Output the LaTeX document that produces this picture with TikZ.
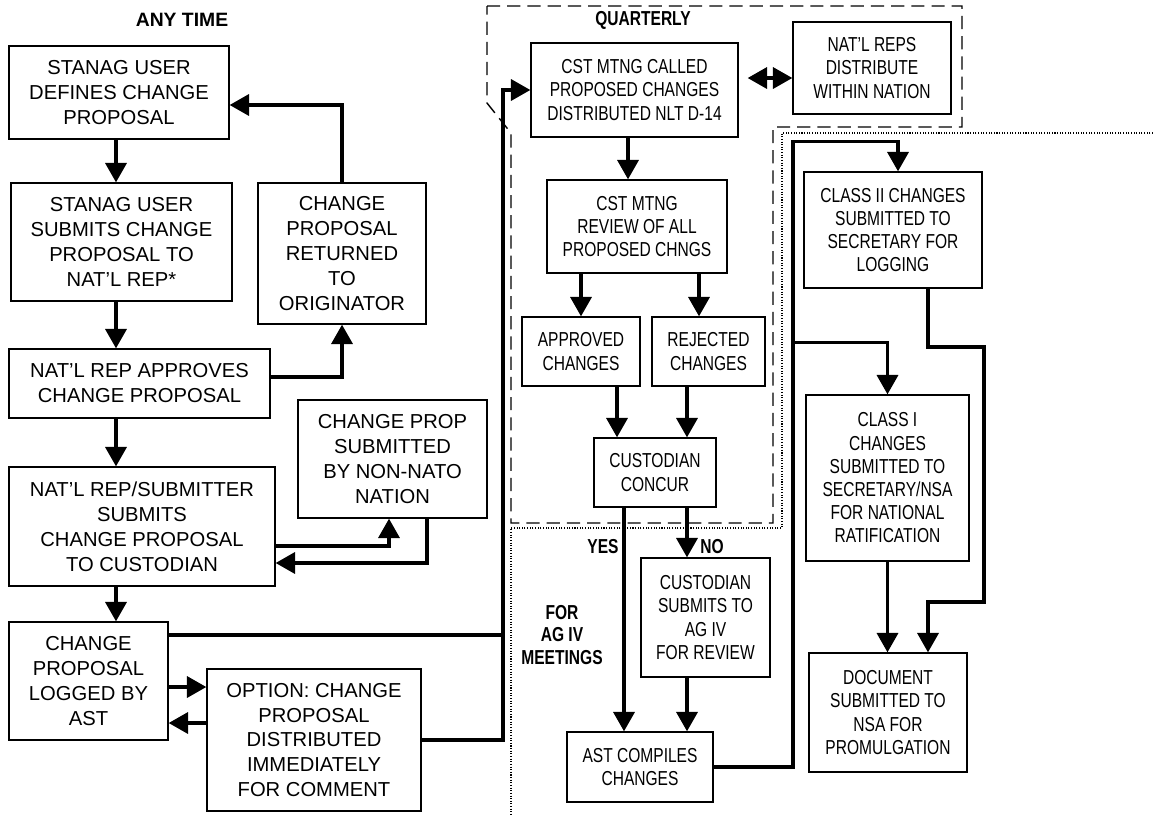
\documentclass[tikz,border=0pt]{standalone}
\usepackage{fontspec}
\setmainfont{Liberation Sans}
\newfontfamily\narrowfont{Liberation Sans}[FakeStretch=0.77]
\usetikzlibrary{arrows.meta,calc}

\begin{document}
\begin{tikzpicture}[x=0.02cm,y=-0.02cm,
    box/.style={draw, line width=0.8pt, align=center, inner sep=0pt,
      font=\fontsize{11.5}{14.2}\selectfont},
    nbox/.style={box, font=\narrowfont\fontsize{11.5}{13.2}\selectfont},
    flow/.style={line width=1.8pt},
    arr/.style={flow, -{Triangle[length=11pt,width=12pt]}},
    darr/.style={flow, {Triangle[length=11pt,width=12pt]}-{Triangle[length=11pt,width=12pt]}},
    lbl/.style={font=\bfseries\fontsize{11}{13}\selectfont},
    nlbl/.style={font=\narrowfont\bfseries\fontsize{11.5}{13}\selectfont, align=center}]
  \useasboundingbox (0,0) rectangle (1153,816);

  % Regions
  \draw[line width=0.8pt, dash pattern=on 7.5pt off 4pt]
    (487,6) -- (962,6) -- (962,127) -- (773,127) -- (773,523) -- (511,523) -- (511,133) -- (487,103) -- cycle;
  \draw[line width=0.6pt, dash pattern=on 0.6pt off 0.9pt]
    (1153,133) -- (782,133) -- (782,528) -- (511,528) -- (511,816);

  % Headings
  \node[lbl] (anytime) at (182,20) {ANY TIME};
  \node[nlbl] (quarterly) at (643,20) {QUARTERLY};
  \node[nlbl] (yes) at (603,547) {YES};
  \node[nlbl] (no) at (712,547) {NO};
  \node[nlbl] (agmeet) at (562,635) {FOR\\AG IV\\MEETINGS};

  % Any time column
  \node[box, minimum width=4.40cm, minimum height=1.86cm] (define) at (119,92.5) {STANAG USER\\DEFINES CHANGE\\PROPOSAL};
  \node[box, minimum width=4.42cm, minimum height=2.36cm] (submit) at (121.5,242) {STANAG USER\\SUBMITS CHANGE\\PROPOSAL TO\\NAT’L REP*};
  \node[box, minimum width=3.36cm, minimum height=2.82cm] (returned) at (342,253.5) {CHANGE\\PROPOSAL\\RETURNED\\TO\\ORIGINATOR};
  \node[box, minimum width=5.22cm, minimum height=1.38cm] (approves) at (139.5,383.5) {NAT’L REP APPROVES\\CHANGE PROPOSAL};
  \node[box, minimum width=3.78cm, minimum height=2.36cm] (nonnato) at (392.5,459) {CHANGE PROP\\SUBMITTED\\BY NON-NATO\\NATION};
  \node[box, minimum width=5.32cm, minimum height=2.38cm] (tocust) at (142,526.5) {NAT’L REP/SUBMITTER\\SUBMITS\\CHANGE PROPOSAL\\TO CUSTODIAN};
  \node[box, minimum width=3.18cm, minimum height=2.36cm] (logged) at (88.5,681) {CHANGE\\PROPOSAL\\LOGGED BY\\AST};
  \node[box, minimum width=4.28cm, minimum height=2.84cm] (option) at (314,740) {OPTION: CHANGE\\PROPOSAL\\DISTRIBUTED\\IMMEDIATELY\\FOR COMMENT};

  % Quarterly meeting
  \node[nbox, minimum width=4.14cm, minimum height=1.88cm] (called) at (634.5,90) {CST MTNG CALLED\\PROPOSED CHANGES\\DISTRIBUTED NLT D-14};
  \node[nbox, minimum width=3.16cm, minimum height=1.84cm] (reps) at (872,68) {NAT’L REPS\\DISTRIBUTE\\WITHIN NATION};
  \node[nbox, minimum width=3.60cm, minimum height=1.86cm] (review) at (637,226.5) {CST MTNG\\REVIEW OF ALL\\PROPOSED CHNGS};
  \node[nbox, minimum width=2.36cm, minimum height=1.38cm] (approved) at (581,351.5) {APPROVED\\CHANGES};
  \node[nbox, minimum width=2.26cm, minimum height=1.38cm] (rejected) at (708.5,351.5) {REJECTED\\CHANGES};
  \node[nbox, minimum width=2.44cm, minimum height=1.38cm] (concur) at (655,472.5) {CUSTODIAN\\CONCUR};

  % AG IV meetings
  \node[nbox, minimum width=2.58cm, minimum height=2.38cm] (agsubmit) at (705.5,617.5) {CUSTODIAN\\SUBMITS TO\\AG IV\\FOR REVIEW};
  \node[nbox, minimum width=2.92cm, minimum height=1.40cm] (compile) at (640,767) {AST COMPILES\\CHANGES};
  \node[nbox, minimum width=3.56cm, minimum height=2.32cm] (classii) at (893,230) {CLASS II CHANGES\\SUBMITTED TO\\SECRETARY FOR\\LOGGING};
  \node[nbox, minimum width=3.26cm, minimum height=3.32cm] (classi) at (887.5,478) {CLASS I\\CHANGES\\SUBMITTED TO\\SECRETARY/NSA\\FOR NATIONAL\\RATIFICATION};
  \node[nbox, minimum width=3.16cm, minimum height=2.38cm] (document) at (888,712.5) {DOCUMENT\\SUBMITTED TO\\NSA FOR\\PROMULGATION};

  % Helper points
  \coordinate (lcol) at (116,0);
  \coordinate (bus) at (503,0);
  \coordinate (rbus) at (793,0);
  \coordinate (ctop) at ([xshift=0.1cm,yshift=0.6cm]classii.north);
  \coordinate (itop) at ([yshift=1.04cm]classi.north);
  \coordinate (rjog) at (984,347);
  \coordinate (djog) at (928,602);

  % Left column flow
  \draw[arr] (lcol |- define.south) -- (lcol |- submit.north);
  \draw[arr] (lcol |- submit.south) -- (lcol |- approves.north);
  \draw[arr] (lcol |- approves.south) -- (lcol |- tocust.north);
  \draw[arr] (lcol |- tocust.south) -- (lcol |- logged.north);
  \draw[arr] (returned.north) |- ([yshift=-0.25cm]define.east);
  \draw[arr] ([yshift=0.13cm]approves.east) -| (returned.south);
  \draw[arr] ([yshift=-0.39cm]tocust.east) -| ([xshift=-0.07cm]nonnato.south);
  \draw[arr] ([xshift=0.69cm]nonnato.south) |- ([yshift=-0.73cm]tocust.east);
  \draw[arr] ([yshift=-0.12cm]logged.east) -- ([yshift=-0.12cm]logged.east -| option.west);
  \draw[arr] ([yshift=-0.84cm]logged.east -| option.west) -- ([yshift=-0.84cm]logged.east);
  \draw[flow] ([yshift=0.92cm]logged.east) -- ([yshift=0.92cm]logged.east -| bus);
  \draw[arr] (option.east) -- (option.east -| bus) -- (bus |- called.west) -- (called.west);

  % Meeting flow
  \draw[darr] ([xshift=0.18cm,yshift=0.24cm]called.east) -- ([yshift=0.24cm]called.east -| reps.west);
  \draw[arr] ([xshift=-0.13cm]called.south) -- ([xshift=-0.13cm]called.south |- review.north);
  \draw[arr] (approved.north |- review.south) -- (approved.north);
  \draw[arr] ([xshift=-0.19cm]rejected.north |- review.south) -- ([xshift=-0.19cm]rejected.north);
  \draw[arr] ([xshift=-0.76cm]concur.north |- approved.south) -- ([xshift=-0.76cm]concur.north);
  \draw[arr] ([xshift=0.64cm]concur.north |- rejected.south) -- ([xshift=0.64cm]concur.north);
  \draw[arr] ([xshift=-0.32cm]compile.north |- concur.south) -- ([xshift=-0.32cm]compile.north);
  \draw[arr] ([xshift=0.64cm]concur.south) -- ([xshift=0.64cm]concur.south |- agsubmit.north);
  \draw[arr] ([xshift=-0.37cm]agsubmit.south) -- ([xshift=-0.37cm]agsubmit.south |- compile.north);

  % Ratification flow
  \draw[arr] (compile.east) -- (compile.east -| rbus) |- (ctop) -- (ctop |- classii.north);
  \draw[arr] (rbus |- itop) -- (itop) -- (classi.north);
  \draw[arr] ([xshift=0.7cm]classii.south) |- (rjog) |- (djog) -- (djog |- document.north);
  \draw[arr] (classi.south) -- (classi.south |- document.north);
\end{tikzpicture}
\end{document}
